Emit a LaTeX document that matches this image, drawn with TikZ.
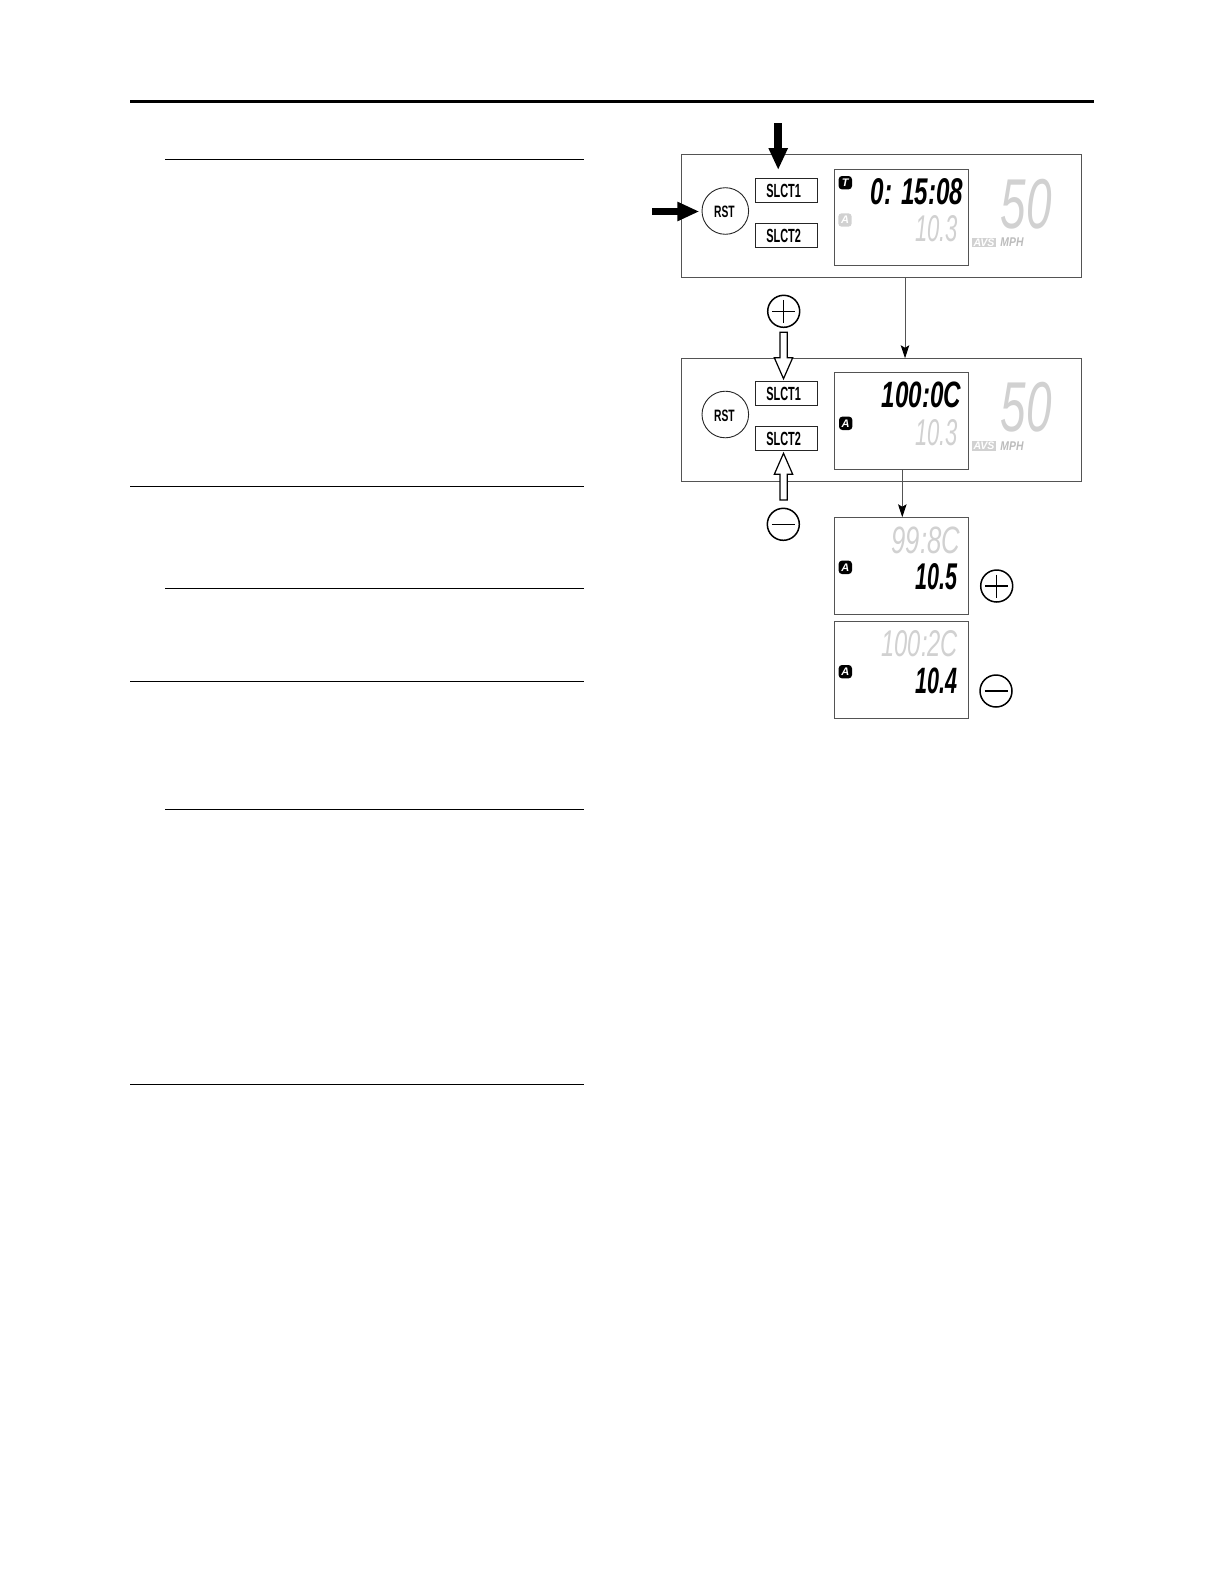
\documentclass[tikz,border=0pt]{standalone}
\usepackage{fontspec}
\usetikzlibrary{arrows.meta,calc}
\setmainfont{Liberation Sans}
\definecolor{lcdgrey}{gray}{0.82}
\definecolor{edgegrey}{gray}{0.33}
\tikzset{
  rulethin/.style={line width=1pt,black},
  rulethick/.style={line width=3pt,black},
  panelbox/.style={draw=edgegrey,line width=1pt,fill=white,outer sep=0pt,inner sep=0pt,anchor=north west},
  lcdbox/.style={draw=edgegrey,line width=1pt,fill=white,outer sep=0pt,inner sep=0pt,anchor=north west},
  keybox/.style={draw=black!85,line width=.9pt,fill=white,outer sep=0pt,inner sep=0pt,anchor=north west},
  rstcircle/.style={draw=black!85,line width=.9pt,fill=white,circle,minimum size=46.6pt,inner sep=0pt},
  fit text/.style={inner sep=0pt,outer sep=0pt,anchor=base west},
  badge/.style={fill=#1,rounded corners=3.4pt,minimum width=13.4pt,minimum height=13.4pt,inner sep=0pt,text=white,font=\bfseries\itshape\fontsize{11}{11}\selectfont},
  signcircle/.style={draw=black,line width=1.5pt,circle,minimum size=32pt,inner sep=0pt},
  signbar/.style={line width=1.2pt,black},
  flowarrow/.style={draw=edgegrey,line width=1pt,-{Stealth[length=13pt,width=8.5pt,inset=2.5pt,black]}},
  blackarrow/.style={draw=black,line width=7.5pt,-{Triangle[length=22pt,width=18pt]}},
  whitearrow/.style={draw=black,line width=1.2pt,fill=white,line join=miter},
  avsbadge/.style={fill=lcdgrey,minimum width=24pt,minimum height=9.6pt,inner sep=0pt,outer sep=0pt,text=white,font=\bfseries\itshape}
}
% name, x1, y1, x2, y2, colour, font, text
\newcommand{\fittext}[8]{%
  \pgfmathsetlengthmacro{\fitw}{#4-#2}%
  \pgfmathsetlengthmacro{\fith}{#5-#3}%
  \node[fit text,text=#6] (#1) at (#2,#5) {\resizebox{\fitw}{\fith}{#7 #8}};}
\begin{document}
\begin{tikzpicture}[x=1pt,y=-1pt]
\path[fill=white,use as bounding box] (0,0) rectangle (1224,1584);
% page rules
\coordinate (ra) at (130,102);   \coordinate (rb) at (1094,102);
\draw[rulethick] (ra) -- (rb);
\foreach \yy/\xx in {159/165,486.3/130,588.3/165,681.3/130,809.3/165,1084.3/130}{
  \draw[rulethin] (\xx,\yy) -- (584,\yy);
}
% panels
\node[panelbox,minimum width=400.4pt,minimum height=123pt] (p1) at (681.3,154.7) {};
\node[panelbox,minimum width=400.4pt,minimum height=122.7pt] (p2) at (681.3,358.3) {};
% LCD boxes
\node[lcdbox,minimum width=134.3pt,minimum height=96.7pt] (l1) at (834,169) {};
\node[lcdbox,minimum width=134.3pt,minimum height=97pt] (l2) at (834,372.3) {};
\node[lcdbox,minimum width=134.3pt,minimum height=97pt] (l3) at (834,517) {};
\node[lcdbox,minimum width=134.3pt,minimum height=96.7pt] (l4) at (834,621.3) {};
% buttons
\node[rstcircle] (r1) at (725.3,211) {};
\node[rstcircle] (r2) at (725.3,414.5) {};
\foreach \nm/\yy in {s1/178.3,s2/223.3,s3/381.8,s4/426.8}{
  \node[keybox,minimum width=62pt,minimum height=24pt] (\nm) at (755.3,\yy) {};
}
\fittext{t1}{763.3}{184}{801}{197.3}{black}{\bfseries}{SLCT1}
\fittext{t2}{763.3}{229}{801}{242.3}{black}{\bfseries}{SLCT2}
\fittext{t3}{763.3}{387.5}{801}{400.8}{black}{\bfseries}{SLCT1}
\fittext{t4}{763.3}{432.5}{801}{445.8}{black}{\bfseries}{SLCT2}
\fittext{t5}{711.3}{206}{734.7}{217.5}{black}{\bfseries}{RST}
\fittext{t6}{711.3}{409.5}{734.7}{421}{black}{\bfseries}{RST}
% LCD readings
\fittext{d1}{864}{178.3}{963.3}{204.3}{black}{\bfseries\itshape}{0: 15:08}
\fittext{d2}{909}{215.7}{958}{241.7}{lcdgrey}{\itshape}{10.3}
\fittext{d3}{875}{381.7}{961}{407.3}{black}{\bfseries\itshape}{100:0C}
\fittext{d4}{909}{419.2}{958}{445.2}{lcdgrey}{\itshape}{10.3}
\fittext{d5}{884.3}{526.7}{960}{553.3}{lcdgrey}{\itshape}{99:8C}
\fittext{d6}{909.3}{563.3}{957.3}{589.3}{black}{\bfseries\itshape}{10.5}
\fittext{d7}{875}{630.7}{958}{656.7}{lcdgrey}{\itshape}{100:2C}
\fittext{d8}{909.3}{667.7}{957.3}{693.3}{black}{\bfseries\itshape}{10.4}
% speed
\fittext{v1}{988}{179}{1051.7}{228.3}{lcdgrey}{\itshape}{50}
\fittext{v2}{988}{382.5}{1051.7}{431.8}{lcdgrey}{\itshape}{50}
% AVS and MPH
\node[avsbadge] (av1) at (984,242.5) {\resizebox{21pt}{7.6pt}{AVS}};
\node[avsbadge] (av2) at (984,446) {\resizebox{21pt}{7.6pt}{AVS}};
\fittext{mp1}{997.5}{238}{1023.5}{246.7}{lcdgrey!90!black}{\bfseries\itshape}{MPH}
\fittext{mp2}{997.5}{441.5}{1023.5}{450.2}{lcdgrey!90!black}{\bfseries\itshape}{MPH}
% mode badges
\node[badge=black] (b1) at (845.3,182.7) {T};
\node[badge=lcdgrey] (b2) at (845,220) {A};
\node[badge=black] (b3) at (845.7,423.3) {A};
\node[badge=black] (b4) at (845.3,567.3) {A};
\node[badge=black] (b5) at (845.3,671.7) {A};
% connectors
\coordinate (c1a) at (905,277.7);  \coordinate (c1b) at (905,358.3);
\coordinate (c2a) at (902.3,469.3); \coordinate (c2b) at (902.3,517.3);
\draw[flowarrow] (c1a) -- (c1b);
\draw[flowarrow] (c2a) -- (c2b);
% black press arrows
\coordinate (k1a) at (778.2,123.3); \coordinate (k1b) at (778.2,170);
\coordinate (k2a) at (652.3,211.5); \coordinate (k2b) at (699.3,211.5);
\draw[blackarrow] (k1a) -- (k1b);
\draw[blackarrow] (k2a) -- (k2b);
% sign circles
\node[signcircle] (sp1) at (783.7,311.3) {};
\node[signcircle] (sm1) at (783.3,524.3) {};
\node[signcircle] (sp2) at (996.7,586) {};
\node[signcircle] (sm2) at (996,691) {};
\foreach \nm in {sp1,sm1,sp2,sm2}{
  \draw[signbar] ($(\nm.center)+(-11.5,0)$) -- ($(\nm.center)+(11.5,0)$);
}
\foreach \nm in {sp1,sp2}{
  \draw[signbar] ($(\nm.center)+(0,-11.5)$) -- ($(\nm.center)+(0,11.5)$);
}
% outlined arrows
\draw[whitearrow] (780,332.3) -- (787.3,332.3) -- (787.3,357.7) -- (792.7,357.7) -- (783.5,378.7) -- (774.3,357.7) -- (780,357.7) -- cycle;
\draw[whitearrow] (780,500) -- (787.3,500) -- (787.3,474.3) -- (792.7,474.3) -- (783.5,453.3) -- (774.3,474.3) -- (780,474.3) -- cycle;
\end{tikzpicture}
\end{document}
